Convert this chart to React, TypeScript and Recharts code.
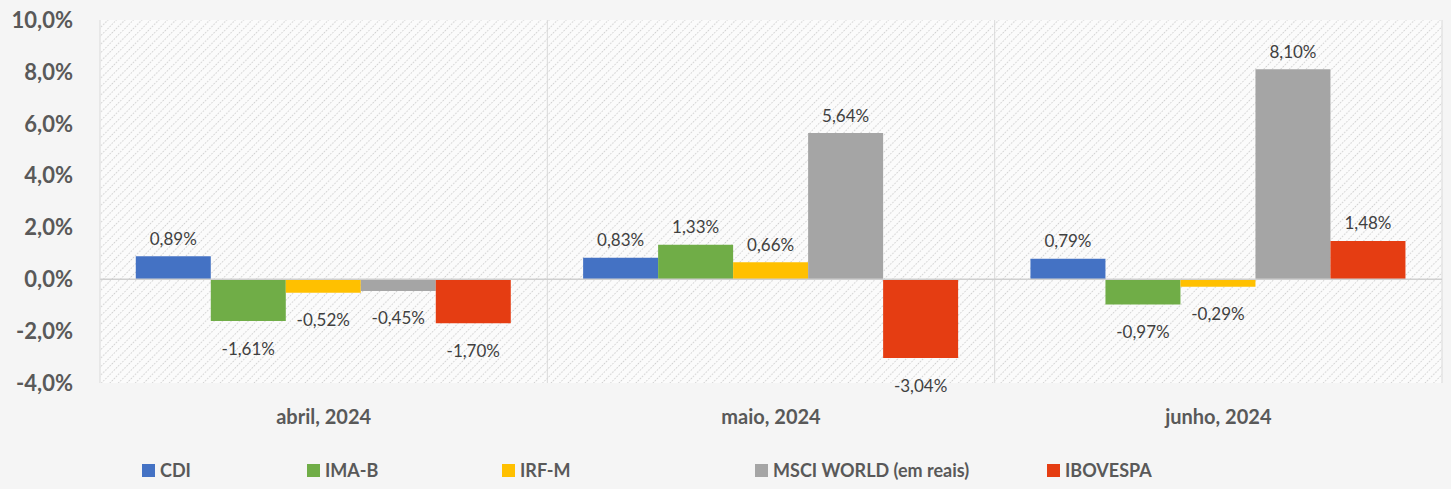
import React from "react";
import {
  BarChart,
  Bar,
  XAxis,
  YAxis,
  CartesianGrid,
  ReferenceLine,
  LabelList,
} from "recharts";

const months = ["abril, 2024", "maio, 2024", "junho, 2024"];
const seriesNames = ["CDI", "IMA-B", "IRF-M", "MSCI WORLD (em reais)", "IBOVESPA"];
const cdi = [0.89, 0.83, 0.79];
const imaB = [-1.61, 1.33, -0.97];
const irfM = [-0.52, 0.66, -0.29];
const msci = [-0.45, 5.64, 8.1];
const ibovespa = [-1.7, -3.04, 1.48];
const yTicks = [-4, -2, 0, 2, 4, 6, 8, 10];

const seriesValues = [cdi, imaB, irfM, msci, ibovespa];
const colors = ["#4472C4", "#70AD47", "#FFC000", "#A5A5A5", "#E53D12"];
const legendLeft = [142, 307, 502, 755, 1047];

const data = months.map((m, i) => {
  const row: Record<string, number | string> = { month: m };
  seriesNames.forEach((s, j) => {
    row[s] = seriesValues[j][i];
  });
  return row;
});

const fmtTick = (v: number) => v.toFixed(1).replace(".", ",") + "%";
const fmtVal = (v: number) => v.toFixed(2).replace(".", ",") + "%";

const BarLabel = (props: any) => {
  const vb = props.viewBox || props;
  const x = vb.x ?? props.x;
  const y = vb.y ?? props.y;
  const w = vb.width ?? props.width;
  const h = vb.height ?? props.height;
  const value = Number(props.value);
  const top = Math.min(y, y + h);
  const bottom = Math.max(y, y + h);
  const ty = value >= 0 ? top - 18 : bottom + 27;
  return (
    <text
      x={x + w / 2}
      y={ty}
      textAnchor="middle"
      dominantBaseline="central"
      fill="#404040"
      fontSize={17}
      fontFamily="Lato, sans-serif"
    >
      {fmtVal(value)}
    </text>
  );
};

export default function App() {
  return (
    <div
      style={{
        position: "relative",
        width: 1451,
        height: 489,
        background: "#f5f5f5",
        fontFamily: "Lato, sans-serif",
      }}
    >
      <style>{"body{margin:0}"}</style>
      <BarChart
        width={1451}
        height={489}
        data={data}
        margin={{ top: 20, right: 9, left: 0, bottom: 56 }}
        barCategoryGap="8%"
        barGap={0}
      >
        <defs>
          <pattern
            id="hatch"
            width="6"
            height="6"
            patternUnits="userSpaceOnUse"
            patternTransform="rotate(45)"
          >
            <rect width="6" height="6" fill="#fbfbfb" />
            <line x1="0" y1="0" x2="0" y2="6" stroke="#cfcfcf" strokeWidth="2" strokeDasharray="1.5 1.5" />
          </pattern>
        </defs>
        <CartesianGrid
          fill="url(#hatch)"
          stroke="#d9d9d9"
          horizontal={false}
          verticalCoordinatesGenerator={({ offset }: any) =>
            [1, 2, 3].map((i) => offset.left + (offset.width * i) / 3)
          }
        />
        <XAxis
          dataKey="month"
          height={50}
          axisLine={false}
          tickLine={false}
          tickSize={0}
          tickMargin={27}
          tick={{ fill: "#595959", fontSize: 20, fontWeight: 700 }}
        />
        <YAxis
          width={100}
          domain={[-4, 10]}
          ticks={yTicks}
          interval={0}
          tickFormatter={fmtTick}
          axisLine={{ stroke: "#d9d9d9" }}
          tickLine={false}
          tickSize={0}
          tickMargin={27}
          tick={{ fill: "#595959", fontSize: 22, fontWeight: 700 }}
        />
        <ReferenceLine y={0} stroke="#cfcfcf" strokeWidth={1.5} />
        {seriesNames.map((s, j) => (
          <Bar key={s} dataKey={s} fill={colors[j]} isAnimationActive={false}>
            <LabelList dataKey={s} content={BarLabel} />
          </Bar>
        ))}
      </BarChart>
      {seriesNames.map((s, j) => (
        <div
          key={s}
          style={{
            position: "absolute",
            left: legendLeft[j],
            top: 459,
            display: "flex",
            alignItems: "center",
            color: "#595959",
            fontSize: 18,
            fontWeight: 700,
            whiteSpace: "nowrap",
          }}
        >
          <span
            style={{
              display: "inline-block",
              width: 13,
              height: 13,
              background: colors[j],
              marginRight: 5,
            }}
          />
          {s}
        </div>
      ))}
    </div>
  );
}
